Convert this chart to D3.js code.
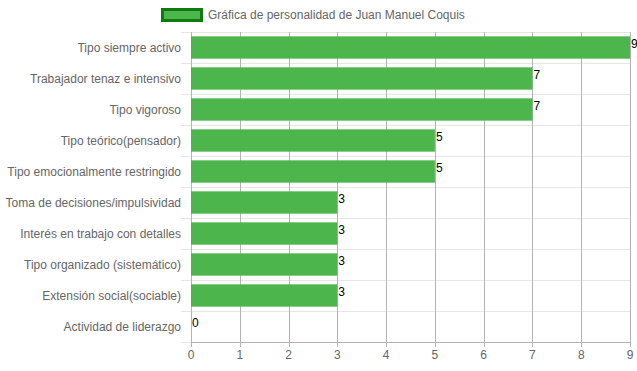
<!DOCTYPE html>
<html>
<head>
<meta charset="utf-8">
<script src="https://cdn.jsdelivr.net/npm/d3@7"></script>
<style>
  body { margin: 0; background: #fff; }
  text { font-family: "Liberation Sans", Arial, sans-serif; }
</style>
</head>
<body>
<div id="chart"></div>
<script>
// data
var categories = [
  "Tipo siempre activo",
  "Trabajador tenaz e intensivo",
  "Tipo vigoroso",
  "Tipo teórico(pensador)",
  "Tipo emocionalmente restringido",
  "Toma de decisiones/impulsividad",
  "Interés en trabajo con detalles",
  "Tipo organizado (sistemático)",
  "Extensión social(sociable)",
  "Actividad de liderazgo"
];
var values = [9, 7, 7, 5, 5, 3, 3, 3, 3, 0];
var xTicks = [0, 1, 2, 3, 4, 5, 6, 7, 8, 9];
var seriesName = "Gráfica de personalidad de Juan Manuel Coquis";

var margin = {top: 32, right: 7, bottom: 29, left: 191},
    width = 637 - margin.left - margin.right,
    height = 371 - margin.top - margin.bottom;

var svg = d3.select("#chart")
  .append("svg")
  .attr("width", 637)
  .attr("height", 371);

var chartGroup = svg.append("g")
  .attr("transform", `translate(${margin.left}, ${margin.top})`);

var xScale = d3.scaleLinear().domain([0, 9]).range([0, width]);
var yScale = d3.scaleBand().domain(categories).range([0, height])
  .paddingInner(0.28).paddingOuter(0.14);
var rowScale = d3.scaleBand().domain(categories).range([0, height]);

// horizontal category grid lines (light)
chartGroup.selectAll(".hgrid")
  .data(categories.concat(["end"]))
  .enter().append("line")
  .attr("class", "hgrid")
  .attr("x1", -10)
  .attr("x2", width)
  .attr("y1", (d, i) => Math.round(i * rowScale.step()) + 0.5)
  .attr("y2", (d, i) => Math.round(i * rowScale.step()) + 0.5)
  .attr("stroke", "#e6e6e6");

// vertical value grid lines
chartGroup.selectAll(".vgrid")
  .data(xTicks)
  .enter().append("line")
  .attr("class", "vgrid")
  .attr("x1", d => Math.round(xScale(d)) + 0.5)
  .attr("x2", d => Math.round(xScale(d)) + 0.5)
  .attr("y1", 0)
  .attr("y2", height + 5)
  .attr("stroke", "#b3b3b3");

// bars
chartGroup.selectAll(".bar")
  .data(values)
  .enter().append("rect")
  .attr("class", "bar")
  .attr("x", xScale(0))
  .attr("y", (d, i) => yScale(categories[i]))
  .attr("width", d => xScale(d) - xScale(0))
  .attr("height", yScale.bandwidth())
  .attr("fill", "#4cb54c");

// bottom axis line
chartGroup.append("line")
  .attr("x1", 0).attr("x2", width)
  .attr("y1", height + 0.5).attr("y2", height + 0.5)
  .attr("stroke", "#b3b3b3");

// value labels
chartGroup.selectAll(".val")
  .data(values)
  .enter().append("text")
  .attr("class", "val")
  .attr("x", d => xScale(d) + 1)
  .attr("y", (d, i) => yScale(categories[i]) + 12)
  .attr("font-size", "12px")
  .attr("fill", "#000")
  .text(d => d);

// category labels
chartGroup.selectAll(".cat")
  .data(categories)
  .enter().append("text")
  .attr("class", "cat")
  .attr("x", -10)
  .attr("y", d => rowScale(d) + rowScale.bandwidth() / 2)
  .attr("dy", "0.35em")
  .attr("text-anchor", "end")
  .attr("font-size", "12px")
  .attr("fill", "#666")
  .text(d => d);

// x tick labels
chartGroup.selectAll(".xt")
  .data(xTicks)
  .enter().append("text")
  .attr("class", "xt")
  .attr("x", d => xScale(d))
  .attr("y", height + 13)
  .attr("dy", "0.35em")
  .attr("text-anchor", "middle")
  .attr("font-size", "12px")
  .attr("fill", "#666")
  .text(d => d);

// legend
var legend = svg.append("g");
legend.append("rect")
  .attr("x", 162.5).attr("y", 9.5)
  .attr("width", 39).attr("height", 11)
  .attr("fill", "#4cb54c")
  .attr("stroke", "#0f7a0f")
  .attr("stroke-width", 3);
legend.append("text")
  .attr("x", 208).attr("y", 15)
  .attr("dy", "0.35em")
  .attr("font-size", "12px")
  .attr("fill", "#666")
  .text(seriesName);
</script>
</body>
</html>
